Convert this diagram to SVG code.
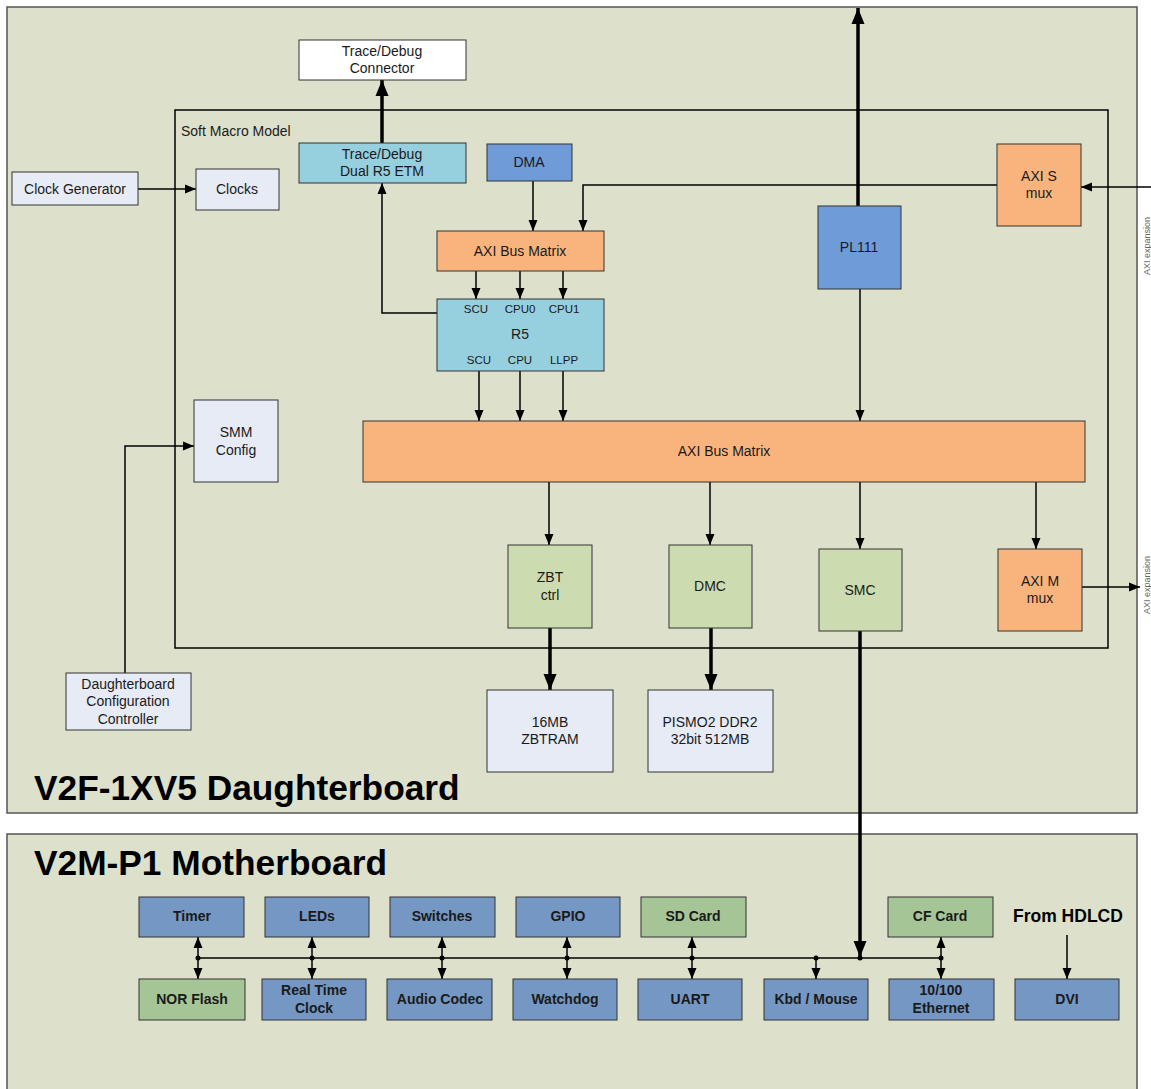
<svg xmlns="http://www.w3.org/2000/svg" width="1151" height="1089" viewBox="0 0 1151 1089">
<style>
text{font-family:"Liberation Sans",Arial,sans-serif;font-size:14px;fill:#1a1a1a;text-anchor:middle}
.board{fill:#dde1cc;stroke:#555;stroke-width:1.5}
.n{stroke:#333;stroke-width:1}
.lt{fill:#e6ebf5}.cy{fill:#96cfdd}.bl{fill:#6f9bd8}.or{fill:#f9b47e}.gr{fill:#cddcb0}.wh{fill:#fff}
.mb{fill:#7497c3}.mg{fill:#a5c596}
.b text,text.b{font-weight:bold}
.sm{font-size:11.5px}
.w{stroke:#000;stroke-width:1.5;fill:none}
.t{stroke:#000;stroke-width:3.5;fill:none}
.title{font-size:35.3px;font-weight:bold;text-anchor:start;fill:#000}
</style>
<defs>
<marker id="a" markerUnits="userSpaceOnUse" markerWidth="11" markerHeight="10" refX="11" refY="5" orient="auto-start-reverse"><path d="M0,0.5 L11,5 L0,9.5 z" fill="#000"/></marker>
<marker id="aL" markerUnits="userSpaceOnUse" markerWidth="16" markerHeight="14" refX="16" refY="7" orient="auto-start-reverse"><path d="M0,0.5 L16,7 L0,13.5 z" fill="#000"/></marker>
</defs>
<rect class="board" x="7" y="7" width="1130" height="806"/>
<rect class="board" x="7" y="834" width="1130" height="270"/>
<rect x="175" y="110" width="933" height="538" fill="none" stroke="#000" stroke-width="1.5"/>
<text x="181" y="136" style="text-anchor:start">Soft Macro Model</text>
<text class="title" x="34" y="800">V2F-1XV5 Daughterboard</text>
<text class="title" x="34" y="875">V2M-P1 Motherboard</text>
<text x="1150" y="246" transform="rotate(-90 1150 246)" style="font-size:9px;fill:#666">AXI expansion</text>
<text x="1150" y="585" transform="rotate(-90 1150 585)" style="font-size:9px;fill:#666">AXI expansion</text>

<g id="connectors">
<line class="t" x1="858" y1="206" x2="858" y2="8" marker-end="url(#aL)"/>
<line class="t" x1="382" y1="143" x2="382" y2="80" marker-end="url(#aL)"/>
<polyline class="w" points="437,313 382,313 382,183" marker-end="url(#a)"/>
<line class="w" x1="138" y1="189" x2="196" y2="189" marker-end="url(#a)"/>
<polyline class="w" points="125,673 125,446 194,446" marker-end="url(#a)"/>
<line class="w" x1="533" y1="181" x2="533" y2="231" marker-end="url(#a)"/>
<polyline class="w" points="997,185 583,185 583,231" marker-end="url(#a)"/>
<line class="w" x1="1151" y1="187" x2="1081" y2="187" marker-end="url(#a)"/>
<line class="w" x1="476" y1="271" x2="476" y2="299" marker-end="url(#a)"/>
<line class="w" x1="520" y1="271" x2="520" y2="299" marker-end="url(#a)"/>
<line class="w" x1="563" y1="271" x2="563" y2="299" marker-end="url(#a)"/>
<line class="w" x1="479" y1="371" x2="479" y2="421" marker-end="url(#a)"/>
<line class="w" x1="520" y1="371" x2="520" y2="421" marker-end="url(#a)"/>
<line class="w" x1="563" y1="371" x2="563" y2="421" marker-end="url(#a)"/>
<line class="w" x1="860" y1="289" x2="860" y2="421" marker-end="url(#a)"/>
<line class="w" x1="549" y1="482" x2="549" y2="545" marker-end="url(#a)"/>
<line class="w" x1="710" y1="482" x2="710" y2="545" marker-end="url(#a)"/>
<line class="w" x1="860" y1="482" x2="860" y2="549" marker-end="url(#a)"/>
<line class="w" x1="1036" y1="482" x2="1036" y2="549" marker-end="url(#a)"/>
<line class="w" x1="1082" y1="587" x2="1140" y2="587" marker-end="url(#a)"/>
<line class="t" x1="550" y1="628" x2="550" y2="690" marker-end="url(#aL)"/>
<line class="t" x1="711" y1="628" x2="711" y2="690" marker-end="url(#aL)"/>
<line class="t" x1="860" y1="631" x2="860" y2="957" marker-end="url(#aL)"/>
<line class="w" x1="198" y1="958" x2="941" y2="958"/>
<g fill="#000">
<circle cx="198" cy="958" r="2.5"/><circle cx="312" cy="958" r="2.5"/><circle cx="442" cy="958" r="2.5"/><circle cx="567" cy="958" r="2.5"/><circle cx="692" cy="958" r="2.5"/><circle cx="816" cy="958" r="2.5"/><circle cx="860" cy="958" r="2.5"/><circle cx="941" cy="958" r="2.5"/>
</g>
<line class="w" x1="198" y1="937" x2="198" y2="979" marker-start="url(#a)" marker-end="url(#a)"/>
<line class="w" x1="312" y1="937" x2="312" y2="979" marker-start="url(#a)" marker-end="url(#a)"/>
<line class="w" x1="442" y1="937" x2="442" y2="979" marker-start="url(#a)" marker-end="url(#a)"/>
<line class="w" x1="567" y1="937" x2="567" y2="979" marker-start="url(#a)" marker-end="url(#a)"/>
<line class="w" x1="692" y1="937" x2="692" y2="979" marker-start="url(#a)" marker-end="url(#a)"/>
<line class="w" x1="941" y1="937" x2="941" y2="979" marker-start="url(#a)" marker-end="url(#a)"/>
<line class="w" x1="816" y1="958" x2="816" y2="979" marker-end="url(#a)"/>
<line class="w" x1="1067" y1="935" x2="1067" y2="979" marker-end="url(#a)"/>
</g>

<g id="trace-conn"><rect class="n wh" x="299" y="40" width="167" height="40"/><text x="382" y="56">Trace/Debug</text><text x="382" y="73">Connector</text></g>
<g id="etm"><rect class="n cy" x="299" y="143" width="167" height="40"/><text x="382" y="159">Trace/Debug</text><text x="382" y="176">Dual R5 ETM</text></g>
<g id="clockgen"><rect class="n lt" x="12" y="172" width="126" height="33"/><text x="75" y="194">Clock Generator</text></g>
<g id="clocks"><rect class="n lt" x="196" y="169" width="83" height="41"/><text x="237" y="194">Clocks</text></g>
<g id="dma"><rect class="n bl" x="487" y="144" width="85" height="37"/><text x="529" y="167">DMA</text></g>
<g id="axi-top"><rect class="n or" x="437" y="231" width="167" height="40"/><text x="520" y="256">AXI Bus Matrix</text></g>
<g id="r5"><rect class="n cy" x="437" y="299" width="167" height="72"/>
<text class="sm" x="476" y="313">SCU</text><text class="sm" x="520" y="313">CPU0</text><text class="sm" x="564" y="313">CPU1</text>
<text x="520" y="339">R5</text>
<text class="sm" x="479" y="364">SCU</text><text class="sm" x="520" y="364">CPU</text><text class="sm" x="564" y="364">LLPP</text></g>
<g id="pl111"><rect class="n bl" x="818" y="206" width="83" height="83"/><text x="859" y="252">PL111</text></g>
<g id="axis"><rect class="n or" x="997" y="144" width="84" height="82"/><text x="1039" y="181">AXI S</text><text x="1039" y="198">mux</text></g>
<g id="smm"><rect class="n lt" x="194" y="400" width="84" height="82"/><text x="236" y="437">SMM</text><text x="236" y="455">Config</text></g>
<g id="axi-big"><rect class="n or" x="363" y="421" width="722" height="61"/><text x="724" y="456">AXI Bus Matrix</text></g>
<g id="zbt"><rect class="n gr" x="508" y="545" width="84" height="83"/><text x="550" y="582">ZBT</text><text x="550" y="600">ctrl</text></g>
<g id="dmc"><rect class="n gr" x="669" y="545" width="83" height="83"/><text x="710" y="591">DMC</text></g>
<g id="smc"><rect class="n gr" x="819" y="549" width="83" height="82"/><text x="860" y="595">SMC</text></g>
<g id="axim"><rect class="n or" x="998" y="549" width="84" height="82"/><text x="1040" y="586">AXI M</text><text x="1040" y="603">mux</text></g>
<g id="zbtram"><rect class="n lt" x="487" y="690" width="126" height="82"/><text x="550" y="727">16MB</text><text x="550" y="744">ZBTRAM</text></g>
<g id="pismo"><rect class="n lt" x="648" y="690" width="125" height="82"/><text x="710" y="727">PISMO2 DDR2</text><text x="710" y="744">32bit 512MB</text></g>
<g id="dcc"><rect class="n lt" x="66" y="673" width="125" height="57"/><text x="128" y="689">Daughterboard</text><text x="128" y="706">Configuration</text><text x="128" y="724">Controller</text></g>

<g class="b">
<g id="timer"><rect class="n mb" x="139" y="897" width="105" height="40"/><text x="192" y="921">Timer</text></g>
<g id="leds"><rect class="n mb" x="265" y="897" width="104" height="40"/><text x="317" y="921">LEDs</text></g>
<g id="switches"><rect class="n mb" x="390" y="897" width="105" height="40"/><text x="442" y="921">Switches</text></g>
<g id="gpio"><rect class="n mb" x="516" y="897" width="104" height="40"/><text x="568" y="921">GPIO</text></g>
<g id="sdcard"><rect class="n mg" x="641" y="897" width="105" height="40"/><text x="693" y="921">SD Card</text></g>
<g id="cfcard"><rect class="n mg" x="888" y="897" width="105" height="40"/><text x="940" y="921">CF Card</text></g>
<text x="1013" y="922" style="text-anchor:start;font-size:17.5px;fill:#000">From HDLCD</text>
<g id="nor"><rect class="n mg" x="139" y="979" width="106" height="41"/><text x="192" y="1004">NOR Flash</text></g>
<g id="rtc"><rect class="n mb" x="262" y="979" width="104" height="41"/><text x="314" y="995">Real Time</text><text x="314" y="1013">Clock</text></g>
<g id="audio"><rect class="n mb" x="387" y="979" width="105" height="41"/><text x="440" y="1004">Audio Codec</text></g>
<g id="watchdog"><rect class="n mb" x="513" y="979" width="104" height="41"/><text x="565" y="1004">Watchdog</text></g>
<g id="uart"><rect class="n mb" x="638" y="979" width="104" height="41"/><text x="690" y="1004">UART</text></g>
<g id="kbd"><rect class="n mb" x="764" y="979" width="104" height="41"/><text x="816" y="1004">Kbd / Mouse</text></g>
<g id="eth"><rect class="n mb" x="889" y="979" width="105" height="41"/><text x="941" y="995">10/100</text><text x="941" y="1013">Ethernet</text></g>
<g id="dvi"><rect class="n mb" x="1015" y="979" width="104" height="41"/><text x="1067" y="1004">DVI</text></g>
</g>
</svg>
